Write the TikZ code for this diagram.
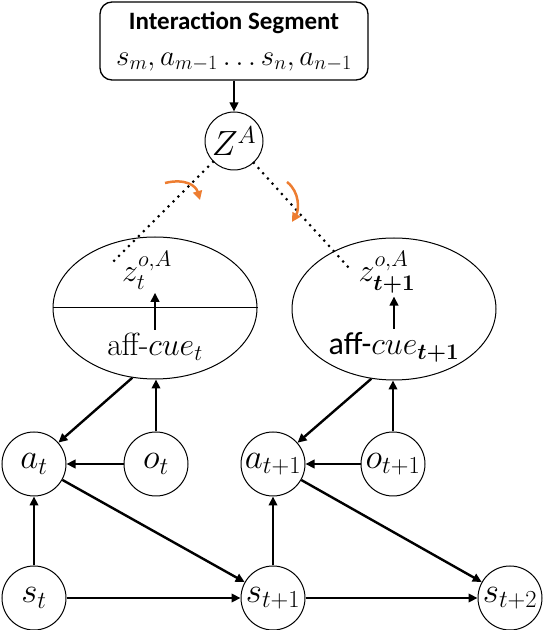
\RequirePackage{fix-cm}
\documentclass[tikz,border=0pt]{standalone}
\usepackage{amsmath, amssymb, bm}
\usepackage{fontspec}
\newfontfamily\calibri{Carlito}
\usepackage{xcolor}
\usepackage{tikz}
\usetikzlibrary{arrows.meta, shapes.geometric}

\definecolor{turnorange}{HTML}{ED7D31}

\tikzset{
  var/.style={draw, circle, line width=1pt, minimum size=64pt, inner sep=0pt, font=\fontsize{35}{38}\selectfont},
  cue/.style={draw, ellipse, line width=1pt, minimum width=204pt, minimum height=142pt},
  link/.style={-{Triangle[length=9pt,width=8.5pt]}, line width=2.4pt},
  dots/.style={line width=3pt, line cap=round, dash pattern=on 0pt off 7pt},
  turn/.style={-{Triangle[length=9pt,width=9pt]}, line width=2.5pt, turnorange}
}

\begin{document}
\begin{tikzpicture}[x=1pt, y=1pt, font=\fontsize{32}{36}\selectfont]

\useasboundingbox (0,0) rectangle (544,630);

% Interaction segment box
\node[draw, rounded corners=12pt, line width=1.3pt, minimum width=268pt, minimum height=78pt] (seg) at (234,589) {};
\node (segtitle) at (234,607) {\calibri\bfseries\fontsize{25}{28}\selectfont Interaction Segment};
\node (segseq) at (234,568) {\fontsize{29}{32}\selectfont $s_m, a_{m-1} \ldots s_n, a_{n-1}$};

% Latent Z^A
\node[var, minimum size=58pt] (ZA) at (234,489) {$Z^A$};
\draw[link] (seg) -- (ZA);

% Affordance ellipses
\node[cue] (cueL) at (155,322) {};
\draw[line width=1pt] (cueL.west) -- (cueL.east);
\node (zL) at (147,360) {$z_t^{o,A}$};
\node (affL) at (155,283) {aff-$cue_t$};
\draw[link] (affL.north) -- (affL.north |- zL.south);

\node[cue] (cueR) at (394,321) {};
\node (zR) at (387,358) {$z_{\boldsymbol{t+1}}^{o,A}$};
\node (affR) at (394,283) {{\calibri aff-}$cue_{\boldsymbol{t+1}}$};
\draw[link] (affR.north) -- (affR.north |- zR.south);

% Dotted links from Z^A
\coordinate (dotL) at (110,365);
\coordinate (dotR) at (348,363);
\draw[dots] (ZA) -- (dotL);
\draw[dots] (ZA) -- (dotR);

% Orange turn arrows
\draw[turn] (165,447) .. controls (186,452) and (196,444) .. (200,430);
\draw[turn] (287,448) .. controls (300,438) and (299,420) .. (292,408);

% Actions, observations and states
\node[var] (at)  at (34,166)  {$a_t$};
\node[var] (ot)  at (156,166) {$o_t$};
\node[var] (at1) at (273,166) {$a_{t+1}$};
\node[var] (ot1) at (393,166) {$o_{t+1}$};
\node[var] (st)  at (34,32)   {$s_t$};
\node[var] (st1) at (273,32)  {$s_{t+1}$};
\node[var] (st2) at (510,32)  {$s_{t+2}$};

% Links
\draw[link] (ot) -- (ot |- cueL.south);
\draw[link] (cueL.252) -- (at);
\draw[link] (ot) -- (at);
\draw[link] (st) -- (at);
\draw[link] (at) -- (st1);
\draw[link] (st) -- (st1);
\draw[link] (ot1) -- (ot1 |- cueR.south);
\draw[link] (cueR.252) -- (at1);
\draw[link] (ot1) -- (at1);
\draw[link] (st1) -- (at1);
\draw[link] (at1) -- (st2);
\draw[link] (st1) -- (st2);

\end{tikzpicture}
\end{document}
